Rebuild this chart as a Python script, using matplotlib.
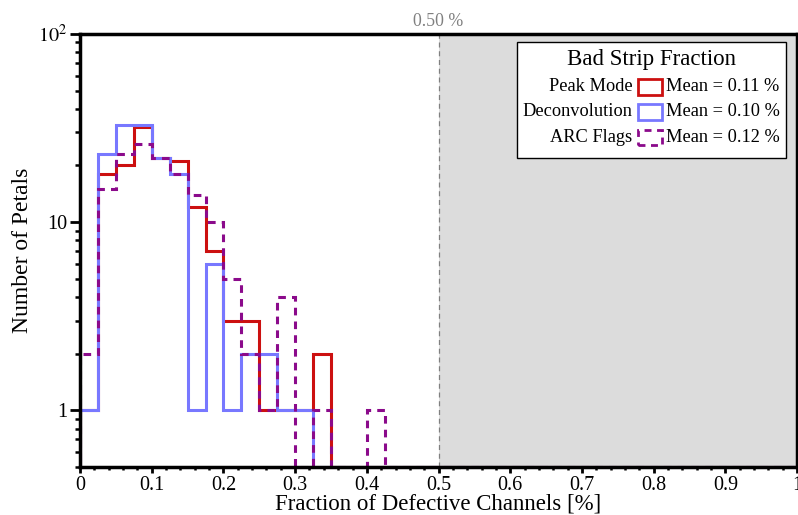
import numpy as np
import matplotlib
matplotlib.use("Agg")
import matplotlib.pyplot as plt
from matplotlib.patches import Rectangle
from matplotlib.ticker import FixedLocator, FixedFormatter, MultipleLocator, LogLocator, NullFormatter

plt.rcParams['font.family'] = ['Liberation Serif', 'DejaVu Serif']
plt.rcParams['mathtext.fontset'] = 'stix'

# bin edges of the histograms (40 bins of 0.025 %)
bin_edges = [i * 0.025 for i in range(41)]

peak_mode = [1, 18, 20, 32, 22, 21, 12, 7, 3, 3,
             1, 1, 1, 2, 0, 0, 0, 0, 0, 0,
             0, 0, 0, 0, 0, 0, 0, 0, 0, 0,
             0, 0, 0, 0, 0, 0, 0, 0, 0, 0]
deconvolution = [1, 23, 33, 33, 22, 18, 1, 6, 1, 2,
                 2, 1, 1, 0, 0, 0, 0, 0, 0, 0,
                 0, 0, 0, 0, 0, 0, 0, 0, 0, 0,
                 0, 0, 0, 0, 0, 0, 0, 0, 0, 0]
arc_flags = [2, 15, 23, 26, 22, 18, 14, 10, 5, 2,
             1, 4, 0, 1, 0, 0, 1, 0, 0, 0,
             0, 0, 0, 0, 0, 0, 0, 0, 0, 0,
             0, 0, 0, 0, 0, 0, 0, 0, 0, 0]

labels = ["Peak Mode", "Deconvolution", "ARC Flags"]
means = ["Mean = 0.11 %", "Mean = 0.10 %", "Mean = 0.12 %"]
threshold = 0.50

ymin, ymax = 0.5, 100

fig = plt.figure(figsize=(7.98, 5.15), dpi=100)
ax = fig.add_axes([0.1003, 0.0932, 0.8985, 0.841])
ax.set_yscale('log')
ax.set_xlim(0, 1)
ax.set_ylim(ymin, ymax)

# excluded region above threshold
ax.axvspan(threshold, 1, color='#dcdcdc', zorder=0, lw=0)
ax.axvline(threshold, color='#808080', lw=0.9, ls=(0, (4, 3)), zorder=1)
ax.text(threshold, 1.008, f"{threshold:.2f} %", transform=ax.get_xaxis_transform(),
        ha='center', va='bottom', color='#808080', fontsize=12.8)

colors = ['#cc1010', '#7878ff', '#8b0a8b']
styles = ['-', '-', (0, (2.5, 2))]
for vals, c, ls in zip([peak_mode, deconvolution, arc_flags], colors, styles):
    v = np.maximum(np.array(vals, dtype=float), ymin)
    ax.stairs(v, bin_edges, color=c, lw=2.2, ls=ls, zorder=3)

# legend drawn by hand (ROOT style)
ax.add_patch(Rectangle((0.61, 0.713), 0.375, 0.268, transform=ax.transAxes,
                       facecolor='white', edgecolor='black', lw=1.0, zorder=5))
ax.text(0.797, 0.940, "Bad Strip Fraction", transform=ax.transAxes,
        ha='center', va='center', fontsize=16.5, zorder=6)
rows = [0.878, 0.820, 0.761]
for y, lab, m, c, ls in zip(rows, labels, means, colors, styles):
    ax.text(0.770, y, lab, transform=ax.transAxes, ha='right', va='center',
            fontsize=13.2, zorder=6)
    ax.add_patch(Rectangle((0.7786, y - 0.018), 0.0337, 0.036, transform=ax.transAxes,
                           facecolor='none', edgecolor=c, lw=2, ls=ls, zorder=6))
    ax.text(0.817, y, m, transform=ax.transAxes, ha='left', va='center',
            fontsize=13.2, zorder=6)

# axes styling
for s in ['left', 'bottom', 'top', 'right']:
    ax.spines[s].set_linewidth(2.5)
    ax.spines[s].set_zorder(7)

ax.xaxis.set_major_locator(MultipleLocator(0.1))
ax.xaxis.set_minor_locator(MultipleLocator(0.02))
ax.xaxis.set_major_formatter(plt.FuncFormatter(lambda v, p: f"{v:g}"))
ax.yaxis.set_major_locator(FixedLocator([1, 10, 100]))
ax.yaxis.set_major_formatter(FixedFormatter(["1", "10", "$10^2$"]))
ax.yaxis.set_minor_locator(LogLocator(base=10, subs=np.arange(2, 10)))
ax.yaxis.set_minor_formatter(NullFormatter())
ax.tick_params(which='both', direction='out', labelsize=14.5)
ax.tick_params(axis='y', which='major', length=7.5, width=2, pad=2)
ax.tick_params(axis='y', which='minor', length=3.5, width=1.8)
ax.tick_params(axis='x', which='major', length=4.5, width=2, pad=2)
ax.tick_params(axis='x', which='minor', length=2.5, width=1.8)

ax.set_xlabel("Fraction of Defective Channels [%]", fontsize=16.5, labelpad=-1)
ax.set_ylabel("Number of Petals", fontsize=17, labelpad=3)

fig.savefig("out.png", dpi=100)
